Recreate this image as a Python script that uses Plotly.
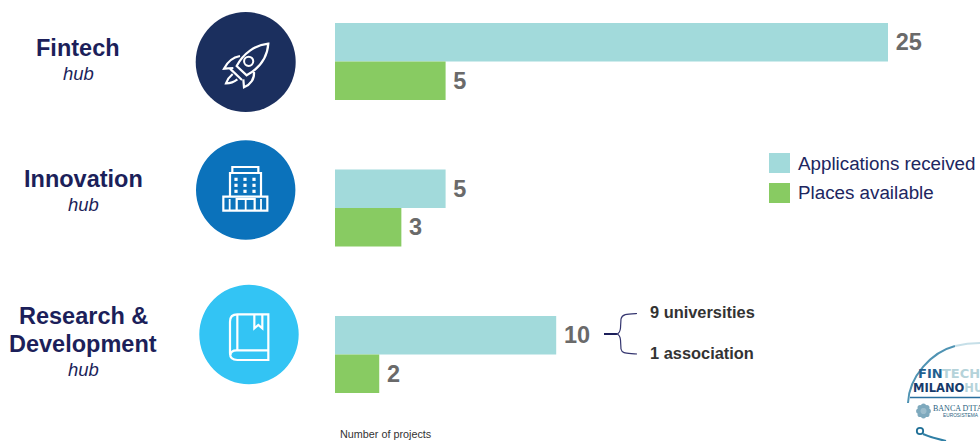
import math
import plotly.graph_objects as go

W, H = 980, 441

hubs = ["Fintech", "Innovation", "Research & Development"]
applications = [25, 5, 10]
places = [5, 3, 2]
series_names = ["Applications received", "Places available"]
breakdown = ["9 universities", "1 association"]
axis_title = "Number of projects"

TEAL = "#a2dadb"
GREEN = "#88cb62"
NAVY = "#1c1f5a"
GREY = "#6a6a6a"
SANS = "Liberation Sans, Arial, sans-serif"

# Helpers: page pixels to paper coordinates
def px(x):
    return x / W

def py(y):
    return 1 - y / H

def path(cmds):
    """Build an SVG path from (letter, x, y, ...) tuples given in page pixels."""
    out = []
    for c in cmds:
        letter, nums = c[0], c[1:]
        pairs = [f"{px(nums[i]):.5f},{py(nums[i + 1]):.5f}" for i in range(0, len(nums), 2)]
        out.append(letter + " ".join(pairs))
    return " ".join(out)

def icon_path(cmds, ox, oy):
    """Icon outlines are written on a 3x grid with their own origin."""
    scaled = []
    for c in cmds:
        vals = [c[0]]
        for i, n in enumerate(c[1:]):
            vals.append((ox if i % 2 == 0 else oy) + n / 3)
        scaled.append(tuple(vals))
    return path(scaled)

shapes = []

def stroke(d, color="white", width=2.2, fill=None):
    shapes.append(dict(type="path", path=d, xref="paper", yref="paper", layer="above",
                       line=dict(color=color, width=width),
                       fillcolor=fill if fill else "rgba(0,0,0,0)"))

def disc(cx, cy, r, color, line=None, width=0):
    shapes.append(dict(type="circle", xref="paper", yref="paper", layer="above",
                       x0=px(cx - r), x1=px(cx + r), y0=py(cy + r), y1=py(cy - r),
                       fillcolor=color, line=dict(color=line or color, width=width)))

def block(x0, y0, x1, y1, color):
    shapes.append(dict(type="rect", xref="paper", yref="paper", layer="above",
                       x0=px(x0), x1=px(x1), y0=py(y1), y1=py(y0),
                       fillcolor=color, line=dict(width=0)))

# Hub badges
disc(245.7, 62, 50, "#1b2f5e")
disc(245.7, 190, 49.7, "#0b72bb")
disc(249, 334.5, 49.7, "#33c4f4")

# Rocket
ox, oy = 180, 0
stroke(icon_path([("M", 265, 131), ("C", 225, 135, 190, 160, 170, 198), ("L", 200, 226),
                  ("C", 238, 205, 262, 172, 265, 131), ("Z",)], ox, oy))
disc(ox + 206 / 3, oy + 184 / 3, 4.6, "rgba(0,0,0,0)", "white", 2)
stroke(icon_path([("M", 180, 168), ("C", 158, 172, 142, 186, 132, 206), ("L", 160, 204)], ox, oy))
stroke(icon_path([("M", 222, 216), ("C", 224, 236, 212, 254, 192, 262), ("L", 190, 238)], ox, oy))
stroke(icon_path([("M", 150, 206), ("L", 186, 240)], ox, oy))
stroke(icon_path([("M", 158, 222), ("C", 148, 230, 142, 240, 138, 250),
                  ("C", 150, 250, 162, 246, 172, 238)], ox, oy))

# Office building
ox, oy = 180, 130
stroke(icon_path([("M", 157, 128), ("L", 157, 111), ("L", 235, 111), ("L", 235, 128)], ox, oy))
stroke(icon_path([("M", 150, 200), ("L", 150, 129), ("L", 243, 129), ("L", 243, 200)], ox, oy))
stroke(icon_path([("M", 130, 200), ("L", 262, 200), ("L", 262, 242), ("L", 130, 242), ("Z",)], ox, oy))
stroke(icon_path([("M", 170, 242), ("L", 170, 207), ("L", 224, 207), ("L", 224, 242)], ox, oy))
stroke(icon_path([("M", 197, 207), ("L", 197, 242)], ox, oy), width=1.8)
stroke(icon_path([("M", 149, 207), ("L", 149, 242)], ox, oy), width=1.8)
stroke(icon_path([("M", 243, 207), ("L", 243, 242)], ox, oy), width=1.8)
for wx in (168, 195, 222):
    for wy in (148, 166, 184):
        block(ox + wx / 3 - 1.6, oy + wy / 3 - 1.6, ox + wx / 3 + 1.6, oy + wy / 3 + 1.6, "white")

# Book
ox, oy = 180, 275
stroke(icon_path([("M", 265, 118), ("L", 172, 118), ("Q", 150, 118, 150, 140), ("L", 150, 235),
                  ("Q", 150, 255, 172, 255), ("L", 265, 255), ("Z",)], ox, oy))
stroke(icon_path([("M", 172, 118), ("L", 172, 225)], ox, oy))
stroke(icon_path([("M", 265, 226), ("L", 170, 226), ("Q", 152, 226, 151, 240)], ox, oy))
stroke(icon_path([("M", 223, 118), ("L", 223, 160), ("L", 235, 150), ("L", 247, 160), ("L", 247, 118)], ox, oy))

# Legend swatches
block(769, 153, 790, 173, TEAL)
block(769, 183, 790, 203, GREEN)

# Bracket beside the research bar
stroke(path([("M", 604, 334), ("L", 617, 334)]), NAVY, 2)
stroke(path([("M", 637, 313.5), ("C", 627, 314, 622, 314, 621, 319), ("L", 620.5, 328),
             ("Q", 620, 333, 617, 334), ("Q", 620, 335, 620.5, 340), ("L", 621, 349),
             ("C", 622, 354, 627, 353, 637, 354)]), "#34356f", 1.2)

# Round logo at the lower right corner
stroke(path([("M", 908, 403), ("C", 909, 376, 932, 352, 955, 346)]), "#4f93b3", 2)
stroke(path([("M", 955, 346), ("C", 963, 344, 972, 343, 980, 343)]), "#c6dfe8", 2)
stroke(path([("M", 923, 434), ("C", 930, 437, 937, 439, 946, 441)]), "#2f7fa5", 2)
disc(920, 431, 3.2, "rgba(0,0,0,0)", "#1f6f96", 1.8)
stroke(path([("M", 910, 397.5), ("L", 980, 397.5)]), "#2a6f9e", 1.6)

# Rosette emblem in the logo
for k in range(8):
    a = k * math.pi / 4
    disc(923.5 + 4.8 * math.cos(a), 411 + 4.8 * math.sin(a), 2.6, "#7ea9bd")
disc(923.5, 411, 3, "#9cbdcc")

annotations = []

def label(x, y, text, size, color, bold=False, italic=False, anchor="center", family=SANS):
    if bold:
        text = f"<b>{text}</b>"
    if italic:
        text = f"<i>{text}</i>"
    annotations.append(dict(x=px(x), y=py(y), xref="paper", yref="paper", text=text,
                            showarrow=False, xanchor=anchor, yanchor="middle",
                            borderpad=0, borderwidth=0,
                            font=dict(size=size, color=color, family=family)))

# Hub names with the italic "hub" line underneath
label(78, 48, hubs[0], 23.5, NAVY, bold=True)
label(78, 73.5, "hub", 18.5, NAVY, italic=True)
label(83, 179, hubs[1], 23.5, NAVY, bold=True)
label(83, 204.5, "hub", 18.5, NAVY, italic=True)
first, second = hubs[2].split(" & ")
label(83, 316, first + " &", 23.5, NAVY, bold=True)
label(83, 344, second, 23.5, NAVY, bold=True)
label(83, 369.5, "hub", 18.5, NAVY, italic=True)

label(798, 163, series_names[0], 18.8, "#20265f", anchor="left")
label(798, 192, series_names[1], 18.8, "#20265f", anchor="left")
label(650, 312, breakdown[0], 16.4, "#333333", bold=True, anchor="left")
label(650, 353, breakdown[1], 16.4, "#333333", bold=True, anchor="left")
label(340, 434, axis_title, 10.8, "#333333", anchor="left")

label(918, 373, "FIN", 13, "#1f5f8f", bold=True, anchor="left", family="DejaVu Sans, sans-serif")
label(942, 373, "TECH", 13, "#b5d3da", bold=True, anchor="left", family="DejaVu Sans, sans-serif")
label(913, 387.5, '<b>MILANO<span style="color:#b5d3da">HUB</span></b>', 11.5, "#173b6b",
      anchor="left", family="DejaVu Sans, sans-serif")
label(933, 408, "BANCA D'ITALIA", 8, "#2a5f80", anchor="left", family="Liberation Serif, serif")
label(943, 415, "EUROSISTEMA", 4.8, "#2a5f80", anchor="left", family="Liberation Sans, sans-serif")

fig = go.Figure()
for name, values, color in ((series_names[0], applications, TEAL), (series_names[1], places, GREEN)):
    fig.add_trace(go.Bar(name=name, y=hubs, x=values, orientation="h",
                         marker=dict(color=color, line=dict(width=0)),
                         text=values, texttemplate="\u2009%{x}", textposition="outside", cliponaxis=False,
                         textfont=dict(size=23.5, color=GREY, family=SANS, weight="bold"),
                         hoverinfo="x+name"))

UNIT = 22.12   # pixels per project
BAND = 146.5   # pixels per hub
fig.update_layout(
    width=W, height=H, margin=dict(l=0, r=0, t=0, b=0),
    paper_bgcolor="white", plot_bgcolor="white",
    barmode="group", bargap=0.474, bargroupgap=0,
    showlegend=False, shapes=shapes, annotations=annotations,
    xaxis=dict(domain=[335 / W, 1], range=[0, (W - 335) / UNIT], visible=False, fixedrange=True),
    yaxis=dict(domain=[0, 1], type="category", categoryorder="array", categoryarray=hubs,
               range=[(H - 61.5) / BAND, -61.5 / BAND], visible=False, fixedrange=True),
)

fig.write_html("out.html", config=dict(displayModeBar=False))
